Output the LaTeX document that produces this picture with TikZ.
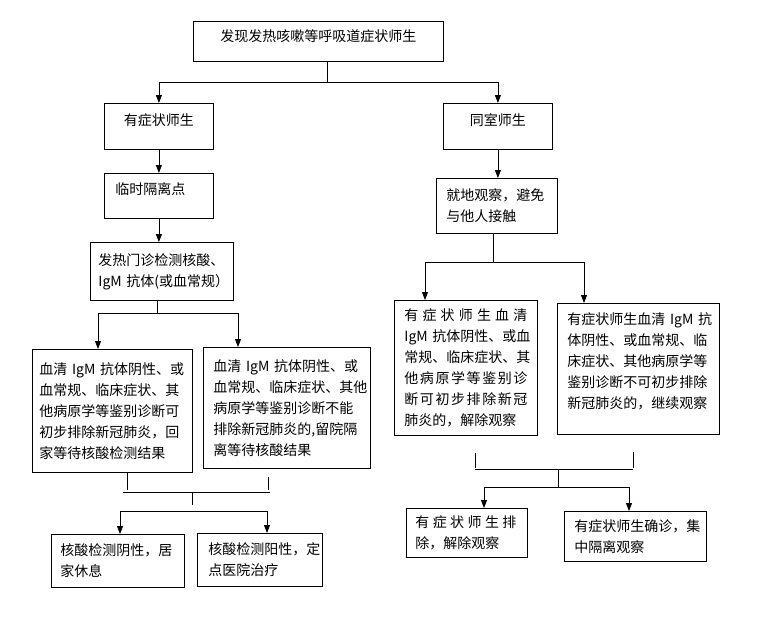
\documentclass[tikz,border=0pt]{standalone}
\usepackage{fontspec}
\setmainfont{Noto Sans CJK SC}
\usepackage{tikz}
\usetikzlibrary{arrows.meta}

\begin{document}
\begin{tikzpicture}[x=1pt, y=-1pt, line width=0.8pt, >={Triangle[length=8pt,width=6pt]},
	box/.style={draw, anchor=north west, inner xsep=0pt, inner ysep=0pt, font=\fontsize{14}{21}\selectfont},
	size/.style 2 args={minimum width=#1pt, minimum height=#2pt},
	pad/.style 2 args={align=left, inner xsep=#1pt, text width=#2pt}]
\fill[white] (0,0) rectangle (773,643);

% top and left column
\node[box, size={250}{40}, align=center] (find) at (193,21) {发现发热咳嗽等呼吸道症状师生\\[-10pt]\mbox{}};
\node[box, size={109}{46}, align=center] (sym) at (104,103) {有症状师生\\[-7pt]\mbox{}};
\node[box, size={109}{45}, pad={11}{87}] (iso) at (104,173) {临时隔离点\\[-7pt]\mbox{}};
\node[box, size={143}{58}, pad={8}{127}] (clinic) at (90,242) {发热门诊检测核酸、\\IgM~抗体(或血常规）};
\node[box, size={160}{123}, pad={7}{146}] (neg) at (32,349)
	{血清~IgM~抗体阴性、或\\血常规、临床症状、其\\他病原学等鉴别诊断可\\初步排除新冠肺炎，回\\家等待核酸检测结果};
\node[box, size={167}{121}, pad={10}{147}] (pos) at (203,347)
	{血清~IgM~抗体阴性、或\\血常规、临床症状、其他\\病原学等鉴别诊断不能\\排除新冠肺炎的,留院隔\\离等待核酸结果};
\node[box, size={133}{53}, pad={9}{115}] (home) at (51,534) {核酸检测阴性，居\\家休息};
\node[box, size={125}{53}, pad={11}{103}] (hosp) at (197,533) {核酸检测阳性，定\\点医院治疗};

% right column
\node[box, size={109}{46}, align=center] (room) at (443,103) {同室师生\\[-7pt]\mbox{}};
\node[box, size={121}{55}, pad={10}{101}] (obs) at (436,178) {就地观察，避免\\与他人接触};
\node[box, size={143}{135}, pad={10}{123}] (clear) at (394,300)
	{\makebox[123pt]{有\hfill 症\hfill 状\hfill 师\hfill 生\hfill 血\hfill 清}\\IgM~抗体阴性、或血\\常规、临床症状、其\\\makebox[123pt]{他\hfill 病\hfill 原\hfill 学\hfill 等\hfill 鉴\hfill 别\hfill 诊}\\\makebox[123pt]{断\hfill 可\hfill 初\hfill 步\hfill 排\hfill 除\hfill 新\hfill 冠}\\肺炎的，解除观察};
\node[box, size={162}{131}, pad={10}{142}] (hold) at (557,303)
	{有症状师生血清~IgM~抗\\体阴性、或血常规、临\\床症状、其他病原学等\\鉴别诊断不可初步排除\\新冠肺炎的，继续观察\\[-5pt]\mbox{}};
\node[box, size={121}{49}, pad={9}{103}] (release) at (406,508) {\makebox[101pt]{有\hfill 症\hfill 状\hfill 师\hfill 生\hfill 排}\\除，解除观察};
\node[box, size={142}{50}, pad={10}{122}] (confirm) at (564,511) {有症状师生确诊，集\\中隔离观察};

% junctions
\coordinate (j0) at (327,82);
\coordinate (j1) at (157,313);
\coordinate (al) at (98,313);
\coordinate (ar) at (238,313);
\coordinate (lbar) at (120,511);
\coordinate (rbar) at (267,511);
\coordinate (j3) at (493,262);
\coordinate (cl) at (425,262);
\coordinate (cr) at (584,262);
\coordinate (rl) at (484,487);
\coordinate (rr) at (629,487);

% connectors
\draw (find.south -| j0) -- (j0);
\draw[->] (j0) -| (sym.north);
\draw[->] (j0) -| (room.north);
\draw[->] (sym) -- (iso);
\draw[->] (iso) -- (iso |- clinic.north);
\draw (clinic.south -| j1) -- (j1);
\draw (al) -- (ar);
\draw[->] (al) -- (al |- neg.north);
\draw[->] (ar) -- (ar |- pos.north);
\draw (127,473) -- (127,490) (268,477) -- (268,490) (123,492) -- (270,492) (192,492) -- (192,505);
\draw (lbar) -- (rbar);
\draw[->] (lbar) -- (lbar |- home.north);
\draw[->] (rbar) -- (rbar |- hosp.north);

\draw[->] (room) -- (room |- obs.north);
\draw (obs.south -| j3) -- (j3);
\draw (cl) -- (cr);
\draw[->] (cl) -- (cl |- clear.north);
\draw[->] (cr) -- (cr |- hold.north);
\draw (475,453) -- (475,468) (633,452) -- (633,468) (475,469) -- (633,469) (558,469) -- (558,487);
\draw (rl) -- (rr);
\draw[->] (rl) -- (rl |- release.north);
\draw[->] (rr) -- (rr |- confirm.north);
\end{tikzpicture}
\end{document}
